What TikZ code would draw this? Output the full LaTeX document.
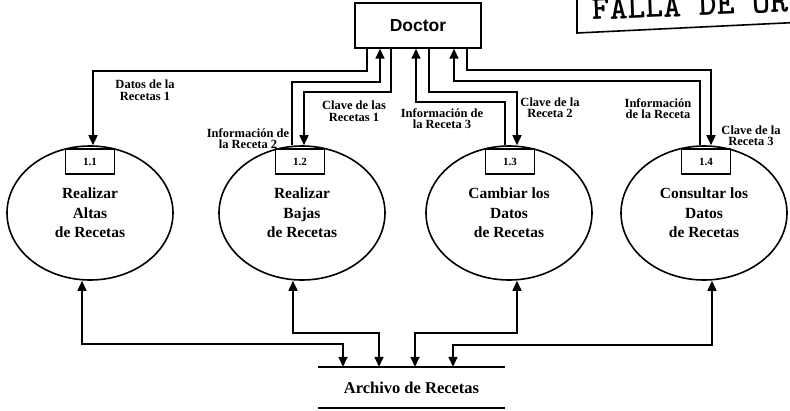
\documentclass[tikz,border=0pt]{standalone}
\usepackage{fontspec}
\setmainfont{Liberation Serif}
\newfontfamily\doctorfont{Liberation Sans}
\usetikzlibrary{arrows.meta,shapes.geometric}
\begin{document}
\begin{tikzpicture}[x=1pt,y=-1pt,
  flow/.style={line width=1.6pt},
  tip/.tip={Triangle[length=10pt,width=9pt]},
  arr/.style={flow,-tip},
  biarr/.style={flow,tip-tip},
  proc/.style={ellipse,draw,line width=1.6pt,minimum width=166pt,minimum height=134pt,
    inner sep=0pt,align=center,font=\bfseries\fontsize{15.5}{19.5}\selectfont},
  numbox/.style={draw,fill=white,line width=1.6pt,minimum width=49pt,minimum height=25pt,
    inner sep=0pt,font=\bfseries\fontsize{11}{12}\selectfont},
  lbl/.style={align=center,inner sep=0pt,font=\bfseries\fontsize{12.5}{11.5}\selectfont},
]
\useasboundingbox (0,0) rectangle (790,410);
\clip (0,0) rectangle (790,410);

% stamp in the upper right corner
\draw[line width=1.6pt] (577,-10) -- (577,33) -- (795,22.5);
\node[rotate=2.3,anchor=base west,inner sep=0pt,
      font=\ttfamily\bfseries\fontsize{34}{34}\selectfont] (stamp) at (592,20) {FALLA DE ORIGEN};

% external entity
\node[draw,line width=1.4pt,minimum width=126pt,minimum height=45pt,inner sep=0pt,
      font=\doctorfont\bfseries\fontsize{17.5}{20}\selectfont] (doctor) at (418,25.5) {Doctor};

% processes
\node[proc] (e1) at (90,213)  {Realizar\\Altas\\de Recetas};
\node[proc] (e2) at (302,213) {Realizar\\Bajas\\de Recetas};
\node[proc] (e3) at (509,213) {Cambiar los\\Datos\\de Recetas};
\node[proc] (e4) at (704,213) {Consultar los\\Datos\\de Recetas};

\node[numbox] (b1) at (90,161.5)  {1.1};
\node[numbox] (b2) at (300,161.5) {1.2};
\node[numbox] (b3) at (510,161.5) {1.3};
\node[numbox] (b4) at (706,161.5) {1.4};

% data store
\node[inner sep=0pt,minimum width=187pt,minimum height=41pt,
      font=\bfseries\fontsize{16.5}{18}\selectfont] (store) at (411.5,387.5) {Archivo de Recetas};
\draw[line width=1.6pt] (store.north west) -- (store.north east);
\draw[line width=1.6pt] (store.south west) -- (store.south east);

% flows between the doctor and the processes
\draw[arr] (doctor.south -| 367,0) |- (93,71)  -- (e1.north -| 93,0);
\draw[arr] (e2.north -| 292,0)     |- (380,82) -- (doctor.south -| 380,0);
\draw[arr] (doctor.south -| 391,0) |- (304,92) -- (e2.north -| 304,0);
\draw[arr] (e3.north -| 505,0)     |- (416,102) -- (doctor.south -| 416,0);
\draw[arr] (doctor.south -| 429,0) |- (517,92) -- (e3.north -| 517,0);
\draw[arr] (e4.north -| 700,0)     |- (454,81) -- (doctor.south -| 454,0);
\draw[arr] (doctor.south -| 467,0) |- (711,70) -- (e4.north -| 711,0);

% flow labels
\node[lbl] (l1) at (145,90)    {Datos de la\\Recetas 1};
\node[lbl] (l2) at (354,111)   {Clave de las\\Recetas 1};
\node[lbl] (l3) at (248,138.5) {Información de\\la Receta 2};
\node[lbl] (l4) at (442,118.5) {Información de\\la Receta 3};
\node[lbl] (l5) at (550,107.5) {Clave de la\\Receta 2};
\node[lbl] (l6) at (658,108.5) {Información\\de la Receta};
\node[lbl] (l7) at (751,135.5) {Clave de la\\Receta 3};

% flows between the processes and the data store
\draw[biarr] (e1.south -| 82,0)  |- (343,344) -- (store.north -| 343,0);
\draw[biarr] (e2.south -| 293,0) |- (379,333) -- (store.north -| 379,0);
\draw[biarr] (e3.south -| 517,0) |- (415,333) -- (store.north -| 415,0);
\draw[biarr] (e4.south -| 712,0) |- (453,345) -- (store.north -| 453,0);
\end{tikzpicture}
\end{document}
